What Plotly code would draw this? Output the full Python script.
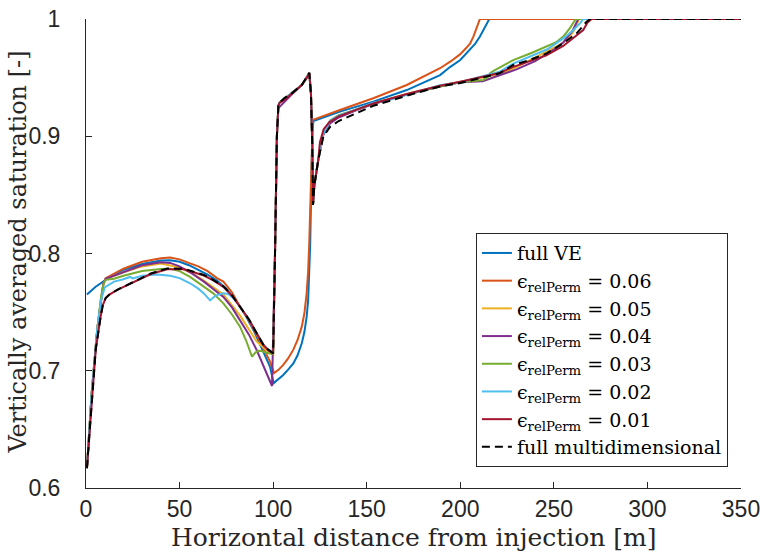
import plotly.graph_objects as go

# ---------------- data ----------------
x_ve = [0.5, 5, 10, 15, 20, 30, 40, 45, 50, 55, 60, 65, 70, 75, 80, 85, 90, 94, 96, 98.3, 100.3,
        101, 103, 105.4, 108, 110.8, 113, 115.3, 116.7, 117.9, 118.7, 119.3, 119.8, 120.3, 120.9, 121.5,
        135.7, 153.5, 171.4, 189.2, 194.5, 200, 205.2, 208, 210.5, 212.5, 214, 215.5, 350]
y_ve = [0.765, 0.7715, 0.777, 0.782, 0.786, 0.791, 0.794, 0.7942, 0.793, 0.790, 0.786, 0.782, 0.777, 0.770, 0.760, 0.748, 0.733, 0.719, 0.712, 0.7035, 0.6895,
        0.6905, 0.693, 0.6964, 0.701, 0.7063, 0.713, 0.7234, 0.733, 0.746, 0.760, 0.780, 0.808, 0.8516, 0.900, 0.913,
        0.921, 0.9295, 0.9394, 0.9522, 0.959, 0.965, 0.9736, 0.979, 0.985, 0.991, 0.9963, 1.0, 1.0]

x_06 = [0.5, 3, 6, 8, 9.3, 10.5, 15, 20, 30, 40, 45, 50, 55.6, 60, 65, 70, 73.4, 78, 82.3, 87, 91.2, 95, 98.3, 100.5,
        103, 105.4, 108, 110.8, 113, 115.3, 116.7, 117.9, 118.7, 119.3, 119.7, 120.1, 120.6, 121.2,
        135.7, 143.7, 153.5, 171.4, 189.2, 195, 200, 203, 205.2, 207, 208.8, 210.5, 350]
y_06 = [0.617, 0.68, 0.735, 0.762, 0.7746, 0.7789, 0.783, 0.787, 0.793, 0.796, 0.7965, 0.795, 0.7916, 0.789, 0.785, 0.779, 0.776, 0.767, 0.7546, 0.743, 0.7305, 0.718, 0.708, 0.698,
        0.701, 0.705, 0.7105, 0.718, 0.726, 0.7376, 0.749, 0.766, 0.785, 0.809, 0.835, 0.8655, 0.900, 0.914,
        0.9224, 0.9266, 0.9324, 0.9437, 0.958, 0.964, 0.970, 0.975, 0.979, 0.985, 0.9935, 1.0, 1.0]

x_05 = [0.5, 3, 6, 8, 9.3, 10.5, 15, 20, 30, 40, 50, 55.6, 63, 73.4, 82.3, 91.2, 97.4, 100,
        101, 102, 102.8, 103.5, 106, 109.9, 115.3, 118, 119.3, 120.2, 120.9, 121.3, 122, 124.1, 126.8, 130.4,
        135, 145, 153.5, 171.4, 189.2, 200, 210.5, 221, 230, 246, 252, 256, 258.6, 261, 263.5, 350]
y_05 = [0.617, 0.68, 0.735, 0.762, 0.7740, 0.7780, 0.781, 0.784, 0.789, 0.7915, 0.788, 0.784, 0.777, 0.765, 0.747, 0.725, 0.716, 0.714,
        0.80, 0.90, 0.926, 0.929, 0.932, 0.9366, 0.9437, 0.950, 0.954, 0.9366, 0.894, 0.8414, 0.858, 0.8797, 0.902, 0.912,
        0.917, 0.923, 0.928, 0.936, 0.943, 0.9465, 0.950, 0.953, 0.959, 0.972, 0.977, 0.981, 0.985, 0.991, 1.0, 1.0]

x_04 = [0.5, 3, 6, 8, 9.3, 10.5, 15, 20, 30, 40, 45, 50, 55.6, 63, 68, 73.4, 78, 82.3, 87, 91.2, 95, 99.4,
        101, 102, 102.8, 104, 106, 109.9, 115.3, 118, 119.3, 120.2, 120.9, 121.3, 122, 124.1, 126.8, 130.4,
        135, 145, 153.5, 171.4, 189.2, 200, 212, 221, 230, 240, 249.7, 255, 260, 263, 350]
y_04 = [0.617, 0.68, 0.735, 0.762, 0.7744, 0.7785, 0.781, 0.784, 0.790, 0.7925, 0.792, 0.789, 0.784, 0.776, 0.770, 0.763, 0.754, 0.743, 0.731, 0.7177, 0.704, 0.687,
        0.80, 0.90, 0.924, 0.926, 0.929, 0.9356, 0.9437, 0.950, 0.954, 0.9366, 0.894, 0.8414, 0.858, 0.8797, 0.901, 0.911,
        0.916, 0.9225, 0.9275, 0.9355, 0.9425, 0.946, 0.947, 0.952, 0.957, 0.964, 0.9736, 0.980, 0.990, 1.0, 1.0]

x_03 = [0.5, 3, 6, 8, 9.3, 10.5, 15, 20, 30, 40, 45, 50, 55.6, 63, 68, 73.4, 78, 82.3, 85.5, 88.7, 90.5, 92, 94, 96, 100,
        101, 102, 102.8, 103.5, 106, 109.9, 115.3, 118, 119.3, 120.2, 120.9, 121.3, 122, 124.1, 126.8, 130.4,
        135, 145, 153.5, 171.4, 189.2, 200, 212.3, 214.5, 215.9, 218, 228.3, 238, 246.2, 251, 255, 258.5, 261.3, 262.2, 350]
y_03 = [0.617, 0.68, 0.735, 0.762, 0.7738, 0.7775, 0.7785, 0.781, 0.785, 0.7868, 0.787, 0.785, 0.780, 0.772, 0.766, 0.7575, 0.748, 0.7376, 0.726, 0.712, 0.7155, 0.717, 0.7168, 0.7155, 0.714,
        0.80, 0.90, 0.926, 0.929, 0.932, 0.9366, 0.9437, 0.950, 0.954, 0.9366, 0.894, 0.8414, 0.858, 0.8797, 0.903, 0.9135,
        0.918, 0.923, 0.928, 0.9355, 0.9425, 0.946, 0.948, 0.950, 0.9537, 0.956, 0.965, 0.971, 0.9764, 0.980, 0.985, 0.992, 0.999, 1.0, 1.0]

x_02 = [0.5, 3, 6, 8, 10, 15, 20, 22, 23.5, 25, 30, 38, 45, 50, 55.6, 60, 63, 66.3, 68, 70, 73.4, 76, 79, 82.3, 87, 91.2, 95, 97.4, 100,
        101, 102, 102.8, 103.5, 106, 109.9, 115.3, 118, 119.3, 120.2, 120.9, 121.3, 122, 124.1, 126.8, 130.4,
        135, 145, 153.5, 160, 171.4, 189.2, 200, 210, 221, 228.3, 237, 246.2, 251, 256.3, 260, 264, 265.7, 350]
y_02 = [0.617, 0.68, 0.735, 0.760, 0.771, 0.776, 0.778, 0.7795, 0.7800, 0.7788, 0.781, 0.782, 0.781, 0.779, 0.7746, 0.770, 0.766, 0.760, 0.7625, 0.7645, 0.766, 0.7655, 0.7615, 0.7546, 0.744, 0.732, 0.722, 0.718, 0.7155,
        0.80, 0.90, 0.926, 0.929, 0.932, 0.9366, 0.9437, 0.950, 0.954, 0.9366, 0.894, 0.8414, 0.858, 0.8797, 0.902, 0.913,
        0.9175, 0.923, 0.9285, 0.930, 0.9355, 0.9435, 0.946, 0.950, 0.955, 0.962, 0.968, 0.974, 0.979, 0.985, 0.990, 0.9963, 1.0, 1.0]

x_01 = [0.5, 3, 5.2, 7.8, 9, 10.5, 12.5, 16.7, 25.6, 34.6, 43.4, 52.4, 63, 68, 73.4, 78, 82.3, 87, 91.2, 95, 97.4, 100,
        101, 102, 102.8, 103.5, 106, 109.9, 115.3, 118, 119.3, 120.2, 120.9, 121.3, 122, 124.1, 125, 127, 130,
        135, 145, 153.5, 171.4, 189.2, 200, 210, 221, 228, 237, 246, 255, 262, 265.7, 268, 270.2, 350]
y_01 = [0.617, 0.675, 0.718, 0.746, 0.756, 0.762, 0.765, 0.769, 0.7755, 0.7825, 0.7865, 0.7865, 0.7812, 0.777, 0.7715, 0.764, 0.7546, 0.744, 0.732, 0.7215, 0.7175, 0.7145,
        0.80, 0.90, 0.926, 0.9287, 0.931, 0.9366, 0.9437, 0.950, 0.954, 0.9366, 0.894, 0.8414, 0.858, 0.8797, 0.895, 0.906, 0.912,
        0.917, 0.923, 0.928, 0.936, 0.943, 0.9465, 0.950, 0.954, 0.959, 0.964, 0.969, 0.977, 0.986, 0.9906, 0.997, 1.0, 1.0]

x_md = [0.5, 3, 5.2, 7.8, 9, 10.5, 12.5, 16.7, 25.6, 34.6, 43.4, 52.4, 63, 68, 73.4, 78, 82.3, 87, 91.2, 95, 97.4, 100,
        101, 102, 102.8, 103.5, 106, 109.9, 115.3, 118, 119.3, 120.2, 120.9, 121.3, 122, 124.1, 126.8, 130.4,
        135, 145, 153.5, 171.4, 189.2, 200, 210.5, 221, 228.3, 237, 246.2, 255, 262.2, 267.5, 269.3, 350]
y_md = [0.617, 0.675, 0.718, 0.746, 0.756, 0.762, 0.765, 0.769, 0.776, 0.783, 0.7872, 0.787, 0.7817, 0.7775, 0.772, 0.7645, 0.7546, 0.744, 0.732, 0.7215, 0.718, 0.715,
        0.80, 0.90, 0.926, 0.9287, 0.9325, 0.9366, 0.9437, 0.950, 0.954, 0.9366, 0.894, 0.8414, 0.858, 0.8797, 0.8997, 0.908,
        0.913, 0.920, 0.926, 0.9346, 0.9425, 0.9454, 0.9494, 0.9537, 0.9608, 0.965, 0.9707, 0.9793, 0.9878, 0.9977, 1.0, 1.0]

x_ticks = [0, 50, 100, 150, 200, 250, 300, 350]
y_ticks = [0.6, 0.7, 0.8, 0.9, 1.0]
y_tick_labels = ["0.6", "0.7", "0.8", "0.9", "1"]

x_title = "Horizontal distance from injection [m]"
y_title = "Vertically averaged saturation [-]"

series = [
    ("full VE", x_ve, y_ve, "#0072BD", "solid"),
    ("ϵ<sub>relPerm</sub> = 0.06", x_06, y_06, "#D95319", "solid"),
    ("ϵ<sub>relPerm</sub> = 0.05", x_05, y_05, "#EDB120", "solid"),
    ("ϵ<sub>relPerm</sub> = 0.04", x_04, y_04, "#7E2F8E", "solid"),
    ("ϵ<sub>relPerm</sub> = 0.03", x_03, y_03, "#77AC30", "solid"),
    ("ϵ<sub>relPerm</sub> = 0.02", x_02, y_02, "#4DBEEE", "solid"),
    ("ϵ<sub>relPerm</sub> = 0.01", x_01, y_01, "#A2142F", "solid"),
    ("full multidimensional", x_md, y_md, "#000000", "8px,5px"),
]

fig = go.Figure()
for name, xs, ys, color, dash in series:
    fig.add_trace(go.Scatter(x=xs, y=ys, mode="lines", name=name,
                             line=dict(color=color, width=2, dash=dash)))

axis_color = "#262626"
fig.update_layout(
    width=763, height=554,
    margin=dict(l=86, r=22, t=19, b=66, autoexpand=False),
    paper_bgcolor="white", plot_bgcolor="white",
    showlegend=True,
    legend=dict(
        x=0.98, y=0.294, xanchor="right", yanchor="middle",
        bgcolor="white", bordercolor=axis_color, borderwidth=1,
        font=dict(family="DejaVu Serif", size=19, color="#000000"),
        itemwidth=30, tracegroupgap=0,
    ),
    xaxis=dict(
        range=[0, 350], tickvals=x_ticks, ticks="inside", ticklen=6, tickcolor=axis_color,
        showline=True, linecolor=axis_color, linewidth=1, showgrid=False, zeroline=False,
        automargin=False,
        tickfont=dict(family="Liberation Sans", size=23, color=axis_color),
    ),
    yaxis=dict(
        range=[0.6, 1.0], tickvals=y_ticks, ticktext=y_tick_labels, ticks="inside", ticklen=6,
        tickcolor=axis_color, showline=True, linecolor=axis_color, linewidth=1, showgrid=False,
        zeroline=False, automargin=False, ticklabelstandoff=20,
        tickfont=dict(family="Liberation Sans", size=23, color=axis_color),
    ),
    annotations=[
        dict(text=x_title, xref="paper", yref="paper", x=0.5, y=-0.1066,
             xanchor="center", yanchor="middle", showarrow=False,
             font=dict(family="DejaVu Serif", size=25, color=axis_color)),
        dict(text=y_title, xref="paper", yref="paper", x=-0.104, y=0.504,
             xanchor="center", yanchor="middle", showarrow=False, textangle=-90,
             font=dict(family="DejaVu Serif", size=24, color=axis_color)),
    ],
)

fig.write_html("out.html", post_script="document.body.style.margin='0';",
               config={"displayModeBar": False})
